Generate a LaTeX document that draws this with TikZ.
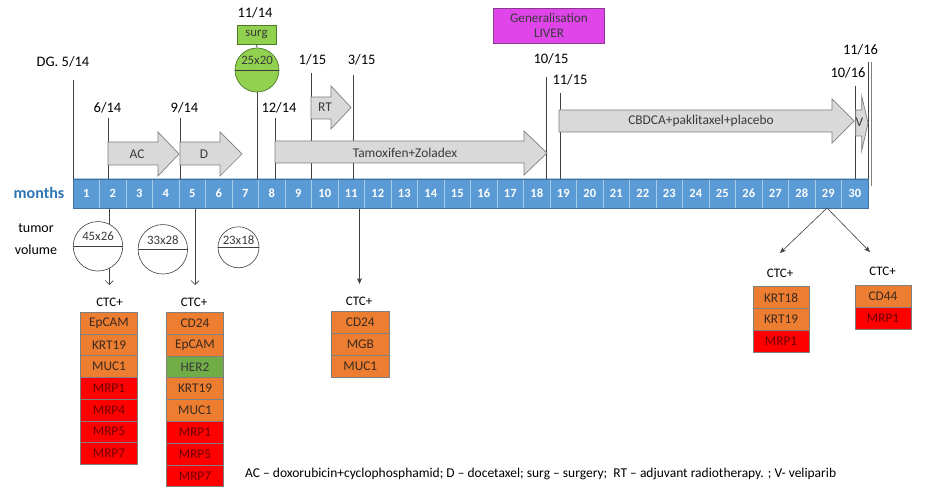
\documentclass[tikz,border=0pt]{standalone}
\usepackage{fontspec}
\setmainfont{Carlito}
\usetikzlibrary{arrows.meta}
\definecolor{cellblue}{HTML}{5B9BD5}
\definecolor{barborder}{HTML}{41719C}
\definecolor{cellsep}{HTML}{A9CBEA}
\definecolor{monthblue}{HTML}{2E75B6}
\definecolor{arrfill}{HTML}{D9D9D9}
\definecolor{arrdraw}{HTML}{7F7F7F}
\definecolor{linegray}{HTML}{404040}
\definecolor{surggreen}{HTML}{92D050}
\definecolor{surgborder}{HTML}{4E7A2A}
\definecolor{genmag}{HTML}{DF45E8}
\definecolor{genborder}{HTML}{8A3A8E}
\definecolor{mkorange}{HTML}{ED7D31}
\definecolor{mkred}{HTML}{FF0000}
\definecolor{mkgreen}{HTML}{70AD47}
\definecolor{mkborder}{HTML}{7F7F7F}
\definecolor{txtdark}{HTML}{3A3A3A}
\definecolor{txtorange}{HTML}{3B2A1E}
\definecolor{txtred}{HTML}{6E0000}
\newcommand{\fsz}[1]{\fontsize{#1}{#1}\selectfont}
\begin{document}
\begin{tikzpicture}[x=1pt,y=-1pt,
  datelbl/.style={inner sep=0pt, font=\fsz{14.5}, text=black},
  vline/.style={draw=linegray, line width=0.7pt},
  blockarr/.style={fill=arrfill, draw=arrdraw, line width=0.7pt},
  arrtext/.style={inner sep=0pt, font=\fsz{13.4}, text=txtdark},
  monthcell/.style={fill=cellblue, draw=cellsep, line width=0.5pt, minimum width=26.5pt, minimum height=29.5pt, inner sep=0pt, font=\bfseries\fsz{12.5}, text=white},
  tumor/.style={circle, fill=white, draw=linegray, line width=0.6pt, inner sep=0pt},
  tumtext/.style={inner sep=0pt, font=\fsz{12.8}, text=txtdark},
  ctclbl/.style={inner sep=0pt, font=\fsz{13}, text=black},
  mk/.style={draw=mkborder, line width=0.6pt, minimum height=21.7pt, inner sep=0pt, font=\fsz{13.3}},
  mko/.style={mk, fill=mkorange, text=txtorange},
  mkr/.style={mk, fill=mkred, text=txtred},
  mkg/.style={mk, fill=mkgreen, text=txtdark},
  openarr/.style={draw=linegray, line width=0.6pt, -{Straight Barb[length=4pt,width=8pt]}},
  fillarr/.style={draw=linegray, line width=0.6pt, -{Stealth[length=6pt,width=5pt]}}
]
\fill[white] (0,0) rectangle (925,494);
\useasboundingbox (0,0) rectangle (925,494);

% ---------- timeline bar ----------
\foreach \i in {1,...,30} {
  \node[monthcell] (m\i) at ({73+26.5*(\i-0.5)},193.5) {\i};
}
\node[draw=barborder, line width=0.8pt, minimum width=795pt, minimum height=29.5pt, inner sep=0pt, anchor=north west] (bar) at (73,178.75) {};
\node[inner sep=0pt, font=\bfseries\fsz{16}, text=monthblue] (months) at (39,192.5) {months};

% ---------- date labels ----------
\node[datelbl] (dg) at (63,62) {DG. 5/14};
\node[datelbl] (d614) at (107.5,108) {6/14};
\node[datelbl] (d914) at (184.5,108) {9/14};
\node[datelbl] (d1114) at (255,13) {11/14};
\node[datelbl] (d1214) at (279,108) {12/14};
\node[datelbl] (d115) at (312.5,60) {1/15};
\node[datelbl] (d315) at (361.7,60) {3/15};
\node[datelbl] (d1015) at (551,59) {10/15};
\node[datelbl] (d1115) at (570,80) {11/15};
\node[datelbl] (d1016) at (848,73) {10/16};
\node[datelbl] (d1116) at (860.5,50) {11/16};

% ---------- tick lines ----------
\coordinate (tdg) at (73,80);
\coordinate (t614) at (108,118);
\coordinate (t914) at (180,118);
\coordinate (t1214) at (275,118);
\coordinate (t115) at (311,73);
\coordinate (t315) at (353,75);
\coordinate (t1015) at (546.7,77);
\coordinate (t1115) at (560,93);
\coordinate (t1016) at (855.7,86);
\coordinate (t1116) at (868.3,62);
\coordinate (t1116b) at (871,62);
\coordinate (t1116e) at (871,186.5);
\foreach \c in {tdg,t614,t914,t1214,t115,t315,t1015,t1115,t1016,t1116} {
  \draw[vline] (\c) -- (\c |- bar.north);
}
\draw[draw=arrdraw, line width=0.8pt] (t1116b) -- (t1116e);

% ---------- surgery ----------
\node[fill=surggreen, draw=surgborder, line width=0.7pt, minimum width=39pt, minimum height=19pt, inner sep=0pt, font=\fsz{12.8}, text=txtdark] (surg) at (256.5,34.5) {surg};
\node[circle, fill=surggreen, draw=surgborder, line width=0.7pt, minimum size=44pt, inner sep=0pt] (gc) at (257,70) {};
\draw[draw=txtdark, line width=0.7pt] (gc.west) -- (gc.east);
\node[tumtext] (gctext) at (257,60) {25x20};
\draw[vline] (surg.south) -- (gc.north);
\draw[vline] (gc.south) -- (gc.south |- bar.north);

% ---------- generalisation ----------
\node[fill=genmag, draw=genborder, line width=0.7pt, minimum width=111pt, minimum height=35pt, inner sep=0pt, align=center, font=\fsz{13.2}, text=txtdark] (gen) at (549,25.5) {Generalisation\\[2pt]LIVER};

% ---------- block arrows ----------
\draw[blockarr] (108,142) -- (158,142) -- (158,132) -- (179,154) -- (158,176) -- (158,165) -- (108,165) -- cycle;
\node[arrtext] (ac) at (137,154) {AC};
\draw[blockarr] (180,142) -- (220,142) -- (220,132) -- (242,154) -- (220,176) -- (220,165) -- (180,165) -- cycle;
\node[arrtext] (dd) at (204,154) {D};
\draw[blockarr] (275,141) -- (524,141) -- (524,131) -- (547,153) -- (524,175) -- (524,163) -- (275,163) -- cycle;
\node[arrtext] (tam) at (405,153) {Tamoxifen+Zoladex};
\draw[blockarr] (311,97) -- (331,97) -- (331,86) -- (351,107.5) -- (331,129) -- (331,119) -- (311,119) -- cycle;
\node[arrtext] (rt) at (325,107) {RT};
\draw[blockarr] (559,110) -- (832,110) -- (832,99) -- (854,121) -- (832,143) -- (832,132) -- (559,132) -- cycle;
\node[arrtext] (cb) at (701,121) {CBDCA+paklitaxel+placebo};
\draw[blockarr] (855.7,110) -- (861.7,110) -- (861.7,96) -- (868,123) -- (861.7,151) -- (861.7,136) -- (855.7,136) -- cycle;
\node[arrtext] (vv) at (859.5,122) {V};

% ---------- tumour volumes ----------
\node[inner sep=0pt, align=center, font=\fsz{14}, text=black] (tv) at (36,239.5) {tumor\\[8pt]volume};
\coordinate (a1) at (109.3,285);
\coordinate (a2) at (195,285);
\coordinate (a3) at (359.5,284);
\draw[openarr] (a1 |- bar.south) -- (a1);
\draw[openarr] (a2 |- bar.south) -- (a2);
\draw[fillarr] (a3 |- bar.south) -- (a3);
\node[tumor, minimum size=49.5pt] (c1) at (98,246.3) {};
\draw[draw=linegray, line width=0.6pt] (c1.west) -- (c1.east);
\node[tumtext] (c1t) at (98,236.7) {45x26};
\node[tumor, minimum size=49.5pt] (c2) at (162.8,249.3) {};
\draw[draw=linegray, line width=0.6pt] (c2.west) -- (c2.east);
\node[tumtext] (c2t) at (162.8,240.5) {33x28};
\node[tumor, minimum size=41pt] (c3) at (238.5,247.3) {};
\draw[draw=linegray, line width=0.6pt] (c3.west) -- (c3.east);
\node[tumtext] (c3t) at (238.5,240) {23x18};

% ---------- diagonal arrows at month 29 ----------
\coordinate (s29) at (827,208);
\coordinate (e29a) at (780,253);
\coordinate (e29b) at (870,252);
\draw[fillarr] (s29) -- (e29a);
\draw[fillarr] (s29) -- (e29b);

% ---------- marker lists ----------
% list 1
\node[ctclbl] (l1h) at (109.5,302.3) {CTC+};
\foreach \t/\s [count=\k] in {EpCAM/mko,KRT19/mko,MUC1/mko,MRP1/mkr,MRP4/mkr,MRP5/mkr,MRP7/mkr} {
  \node[\s, minimum width=56.6pt] (l1r\k) at (109,{312.3+21.7*(\k-0.5)}) {\t};
}
% list 2
\node[ctclbl] (l2h) at (194,302.3) {CTC+};
\foreach \t/\s [count=\k] in {CD24/mko,EpCAM/mko,HER2/mkg,KRT19/mko,MUC1/mko,MRP1/mkr,MRP5/mkr,MRP7/mkr} {
  \node[\s, minimum width=56.6pt, minimum height=21.8pt] (l2r\k) at (195,{312.3+21.8*(\k-0.5)}) {\t};
}
% list 3
\node[ctclbl] (l3h) at (359,301.7) {CTC+};
\foreach \t/\s [count=\k] in {CD24/mko,MGB/mko,MUC1/mko} {
  \node[\s, minimum width=57.3pt] (l3r\k) at (360.3,{311.7+21.7*(\k-0.5)}) {\t};
}
% list 4
\node[ctclbl] (l4h) at (780,273.3) {CTC+};
\foreach \t/\s [count=\k] in {KRT18/mko,KRT19/mko,MRP1/mkr} {
  \node[\s, minimum width=55.7pt, minimum height=21.9pt] (l4r\k) at (781,{286.7+21.9*(\k-0.5)}) {\t};
}
% list 5
\node[ctclbl] (l5h) at (882.5,271) {CTC+};
\foreach \t/\s [count=\k] in {CD44/mko,MRP1/mkr} {
  \node[\s, minimum width=55.7pt, minimum height=22pt] (l5r\k) at (883,{285+22*(\k-0.5)}) {\t};
}

% ---------- legend ----------
\node[inner sep=0pt, anchor=west, font=\fsz{13.5}, text=black] (legend) at (245,474.3) {AC -- doxorubicin+cyclophosphamid; D -- docetaxel; surg -- surgery;\ \ RT -- adjuvant radiotherapy. ; V- veliparib};
\end{tikzpicture}
\end{document}
